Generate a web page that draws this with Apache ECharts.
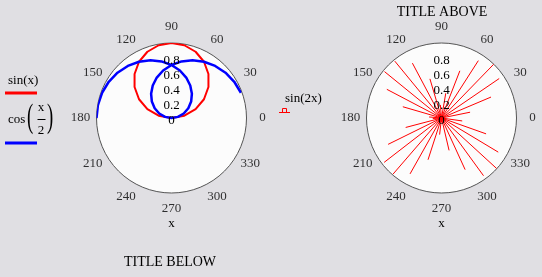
<!DOCTYPE html>
<html><head><meta charset="utf-8">
<script src="https://cdn.jsdelivr.net/npm/echarts@6/dist/echarts.min.js"></script>
<style>html,body{margin:0;padding:0;background:#e0dfe3}#c{width:542px;height:277px}</style>
</head><body><div id="c"></div>
<script>
// ---- data ----
// left chart: sin(x), x in degrees
const redX = [0,10,20,30,40,50,60,70,80,90,100,110,120,130,140,150,160,170,180];
const redR = [0,0.174,0.342,0.5,0.643,0.766,0.866,0.94,0.985,1,0.985,0.94,0.866,0.766,0.643,0.5,0.342,0.174,0];
// left chart: cos(x/2), x in degrees (negative radius plots on the opposite side)
const blueX = [20,30,40,50,60,70,80,90,100,110,120,130,140,150,160,170,180,190,200,210,220,230,240,250,260,270,280,290,300,310,320,330,340,350,360];
const blueR = [0.985,0.966,0.94,0.906,0.866,0.819,0.766,0.707,0.643,0.574,0.5,0.423,0.342,0.259,0.174,0.087,0,-0.087,-0.174,-0.259,-0.342,-0.423,-0.5,-0.574,-0.643,-0.707,-0.766,-0.819,-0.866,-0.906,-0.94,-0.966,-0.985,-0.996,-1];
// right chart: sin(2x) stems, x in radians
const stemX = [0,0.2,0.4,0.6,0.8,1.0,1.2,1.4,1.6,1.8,2.0,2.2,2.4,2.6,2.8,3.0,3.2,3.4,3.6,3.8,4.0,4.2,4.4,4.6,4.8,5.0,5.2,5.4,5.6,5.8,6.0,6.2];
const stemR = [0,0.389,0.717,0.932,1.0,0.909,0.675,0.335,-0.058,-0.443,-0.757,-0.952,-0.996,-0.883,-0.631,-0.279,0.117,0.494,0.794,0.967,0.989,0.855,0.585,0.223,-0.175,-0.544,-0.828,-0.981,-0.98,-0.823,-0.537,-0.166];
// tick labels
const angleTicks = [0,30,60,90,120,150,180,210,240,270,300,330];
const angleTickLabels = ['0','30','60','90','120','150','180','210','240','270','300','330'];
const radiusTickLabels = ['0','0.2','0.4','0.6','0.8'];

const SERIF = '"Liberation Serif", "DejaVu Serif", serif';
const BG = '#e0dfe3';
const LABEL_R = 1.213; // angle labels sit just outside the unit circle

function pt(r, deg) {
  if (r < 0) return [-r, (deg + 180) % 360];
  return [r, deg];
}
const redData = redX.map((d, i) => pt(redR[i], d));
const blueData = blueX.map((d, i) => pt(blueR[i], d));
const stemData = [];
stemX.forEach((x, i) => {
  const deg = x * 180 / Math.PI;
  const p = pt(stemR[i], deg);
  stemData.push([0, p[1]]);
  stemData.push(p);
  stemData.push('-');
});
const angleLabelData = angleTicks.map((a, i) => ({ value: [LABEL_R, a], name: angleTickLabels[i] }));

const CENTERS = [[171.5, 118], [441.5, 118]];
const RADIUS = 75;
const RLABEL_DROP = 3; // radius labels sit slightly below their ticks

const polar = [], angleAxis = [], radiusAxis = [];
CENTERS.forEach((c, k) => {
  polar.push({ center: c, radius: RADIUS });
  angleAxis.push({
    polarIndex: 2 * k, type: 'value', min: 0, max: 360, interval: 30,
    startAngle: 0, clockwise: false,
    axisLine: { show: true, lineStyle: { color: '#555', width: 1 } },
    axisTick: { show: false }, splitLine: { show: false }, splitArea: { show: false },
    axisLabel: { show: false }
  });
  radiusAxis.push({
    polarIndex: 2 * k, type: 'value', min: 0, max: 1, interval: 1, z: 0,
    axisLine: { show: false }, axisTick: { show: false }, axisLabel: { show: false },
    splitLine: { show: false },
    splitArea: { show: true, areaStyle: { color: ['#fcfcfc', '#fcfcfc'] } }
  });
  polar.push({ center: [c[0], c[1] + RLABEL_DROP], radius: RADIUS });
  angleAxis.push({ polarIndex: 2 * k + 1, type: 'value', min: 0, max: 360, startAngle: 90, show: false });
  radiusAxis.push({
    polarIndex: 2 * k + 1, type: 'value', min: 0, max: 1, interval: 0.2, z: 5,
    axisLine: { show: false }, axisTick: { show: false }, splitLine: { show: false },
    axisLabel: { show: true, color: '#000', fontFamily: SERIF, fontSize: 13, margin: 0,
      align: 'center', verticalAlign: 'middle',
      formatter: (v) => { const i = Math.round(v / 0.2); return i < radiusTickLabels.length ? radiusTickLabels[i] : ''; } }
  });
});

const txt = (text, x, y, size, align, extra) => Object.assign({
  type: 'text', x: x, y: y, z: 10,
  style: { text: text, fill: '#000', font: size + 'px ' + SERIF, align: align || 'left', verticalAlign: 'middle' }
}, extra || {});

const graphic = [
  txt('sin(x)', 8, 81, 13),
  { type: 'line', shape: { x1: 5, y1: 93, x2: 37, y2: 93 }, style: { stroke: '#ff0000', lineWidth: 3 } },
  txt('cos', 8, 120, 13),
  txt('(', 27, 118, 34, 'left', { scaleX: 0.55, originX: 0, originY: 0 }),
  txt('x', 41, 108, 13, 'center'),
  { type: 'line', shape: { x1: 37.5, y1: 119.5, x2: 45.5, y2: 119.5 }, style: { stroke: '#000', lineWidth: 1 } },
  txt('2', 41, 131, 13, 'center'),
  txt(')', 47, 118, 34, 'left', { scaleX: 0.55, originX: 0, originY: 0 }),
  { type: 'line', shape: { x1: 5, y1: 143, x2: 37, y2: 143 }, style: { stroke: '#0000ff', lineWidth: 3 } },
  txt('sin(2x)', 285, 99, 13),
  { type: 'polyline', shape: { points: [[279, 112.5], [290, 112.5]] }, style: { stroke: '#ff0000', lineWidth: 1 } },
  { type: 'polyline', shape: { points: [[282.5, 112], [282.5, 108.5], [286.5, 108.5], [286.5, 112]] }, style: { stroke: '#ff0000', lineWidth: 1, fill: 'none' } },
  txt('x', 171.5, 224, 13, 'center'),
  txt('x', 441.5, 224, 13, 'center'),
  txt('TITLE BELOW', 170, 262, 14, 'center'),
  txt('TITLE ABOVE', 442, 12, 14, 'center')
];

const angleLabelSeries = [0, 2].map(pi => ({
  type: 'scatter', coordinateSystem: 'polar', polarIndex: pi, data: angleLabelData,
  symbolSize: 1, itemStyle: { color: 'rgba(0,0,0,0)' }, clip: false, silent: true, z: 6,
  label: { show: true, position: 'inside', formatter: p => p.name, color: '#000',
    fontFamily: SERIF, fontSize: 13, align: 'center', verticalAlign: 'middle' }
}));

const chart = echarts.init(document.getElementById('c'), null, { renderer: 'canvas' });
chart.setOption({
  backgroundColor: BG,
  animation: false,
  polar: polar, angleAxis: angleAxis, radiusAxis: radiusAxis,
  graphic: graphic,
  series: [
    { type: 'line', coordinateSystem: 'polar', polarIndex: 0, data: redData, showSymbol: false,
      lineStyle: { color: '#ff0000', width: 2 }, z: 3, clip: false },
    { type: 'line', coordinateSystem: 'polar', polarIndex: 0, data: blueData, showSymbol: false,
      lineStyle: { color: '#0000ff', width: 2.5 }, z: 4, clip: false },
    { type: 'line', coordinateSystem: 'polar', polarIndex: 2, data: stemData, showSymbol: false,
      connectNulls: false, lineStyle: { color: '#ff0000', width: 1 }, z: 3, clip: false }
  ].concat(angleLabelSeries)
});
</script></body></html>
